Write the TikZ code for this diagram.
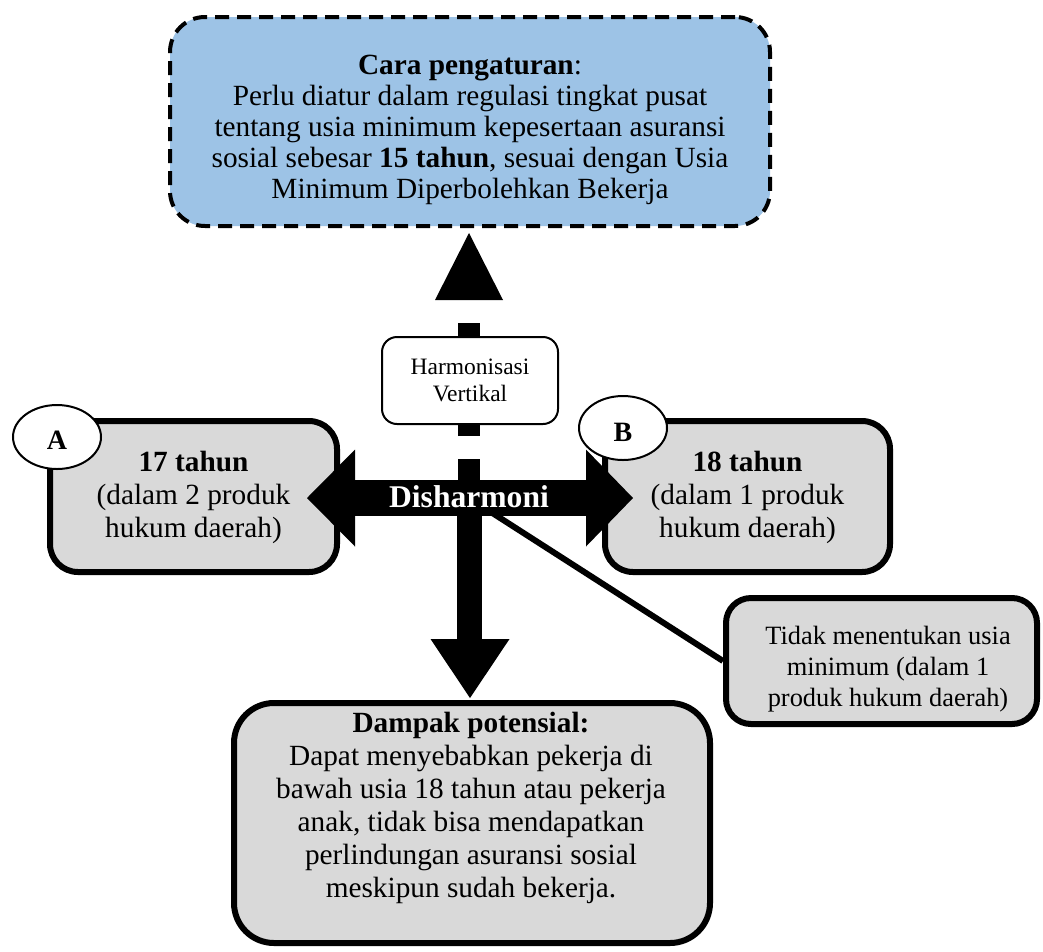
\documentclass[tikz,border=0pt]{standalone}
\usepackage{fontspec}
\setmainfont{Liberation Serif}
\usetikzlibrary{calc,shapes.geometric}
\definecolor{capblue}{RGB}{157,195,230}
\definecolor{boxgray}{RGB}{217,217,217}
\begin{document}
\begin{tikzpicture}[x=1pt,y=-1pt,
  graybox/.style={draw,line width=6pt,fill=boxgray,inner sep=0pt,rounded corners=28pt},
  bodytext/.style={inner sep=0pt,align=center,font=\fontsize{29.3}{33}\selectfont},
  smalltext/.style={inner sep=0pt,align=center,font=\fontsize{26.4}{31}\selectfont},
  tag/.style={draw,ellipse,line width=2pt,fill=white,inner sep=0pt,minimum width=88pt,minimum height=64pt},
  tagtext/.style={inner sep=0pt,font=\fontsize{28}{30}\selectfont\bfseries},
  headfill/.style={fill=black}]
\useasboundingbox (0,0) rectangle (1043,951);

% rule to be set at the central level
\node[draw,line width=4pt,dash pattern=on 14pt off 8pt,fill=capblue,rounded corners=35pt,
      inner sep=0pt,minimum width=600pt,minimum height=209pt] (cara) at (470,121.5) {};
\node[bodytext,font=\fontsize{29.3}{31}\selectfont] (caratext) at (470,130)
  {\textbf{Cara pengaturan}:\\Perlu diatur dalam regulasi tingkat pusat\\tentang usia minimum kepesertaan asuransi\\sosial sebesar \textbf{15 tahun}, sesuai dengan Usia\\Minimum Diperbolehkan Bekerja};

% regional provisions
\node[graybox,minimum width=287pt,minimum height=151pt] (boxA) at (193.5,496.5) {};
\node[bodytext] (textA) at (193.5,497) {\textbf{17 tahun}\\(dalam 2 produk\\hukum daerah)};
\node[graybox,minimum width=285pt,minimum height=151pt] (boxB) at (747.5,496.5) {};
\node[bodytext] (textB) at (747.5,497) {\textbf{18 tahun}\\(dalam 1 produk\\hukum daerah)};
\node[graybox,rounded corners=25pt,minimum width=311pt,minimum height=126pt] (tidak) at (881.5,661) {};
\node[smalltext] (tidaktext) at (888,669) {Tidak menentukan usia\\minimum (dalam 1\\produk hukum daerah)};

% potential impact
\node[graybox,rounded corners=40pt,minimum width=476pt,minimum height=240pt] (dampak) at (472,823) {};
\node[bodytext] (dampaktext) at (471,808)
  {\textbf{Dampak potensial:}\\Dapat menyebabkan pekerja di\\bawah usia 18 tahun atau pekerja\\anak, tidak bisa mendapatkan\\perlindungan asuransi sosial\\meskipun sudah bekerja.};

% arrow geometry
\coordinate (hub) at (469,498);
\coordinate (lbase) at (355,498);
\coordinate (ltip) at (307,498);
\coordinate (rbase) at (586,498);
\coordinate (rtip) at (633,498);
\coordinate (ubase) at (469,300);
\coordinate (utip) at (469,233);
\coordinate (dbase) at (470,639);
\coordinate (dtip) at (470,698);

% link to the provision without a minimum age
\draw[line width=6pt] (hub) -- (tidak.west);

% vertical harmonisation (dashed, upwards)
\draw[line width=22pt,dash pattern=on 39pt off 23pt on 113pt off 23pt] (hub) -- (ubase);
\fill[headfill] (utip) -- ($(ubase)+(-34,0)$) -- ($(ubase)+(34,0)$) -- cycle;

% disharmony (double arrow)
\draw[line width=36pt] (lbase) -- (rbase);
\fill[headfill] (ltip) -- ($(lbase)+(0,-48.5)$) -- ($(lbase)+(0,48.5)$) -- cycle;
\fill[headfill] (rtip) -- ($(rbase)+(0,-48.5)$) -- ($(rbase)+(0,48.5)$) -- cycle;

% impact (downwards)
\draw[line width=25pt] (hub) -- (hub |- dbase);
\fill[headfill] (dtip) -- ($(dbase)+(-39.5,0)$) -- ($(dbase)+(39.5,0)$) -- cycle;

% labels on the arrows
\node[draw,line width=2pt,fill=white,rounded corners=15pt,inner sep=0pt,
      minimum width=176pt,minimum height=87pt] (harm) at (470,380.5) {};
\node[inner sep=0pt,align=center,font=\fontsize{23.5}{26.5}\selectfont] (harmtext) at (470,380.5)
  {Harmonisasi\\Vertikal};
\node[inner sep=0pt,text=white,font=\fontsize{31.6}{34}\selectfont\bfseries] (dis) at (469,496.5) {Disharmoni};

% markers
\node[tag] (tagA) at (57,437) {};
\node[tagtext] (letterA) at (57,440) {A};
\node[tag] (tagB) at (623,428) {};
\node[tagtext] (letterB) at (623,432) {B};
\end{tikzpicture}
\end{document}
